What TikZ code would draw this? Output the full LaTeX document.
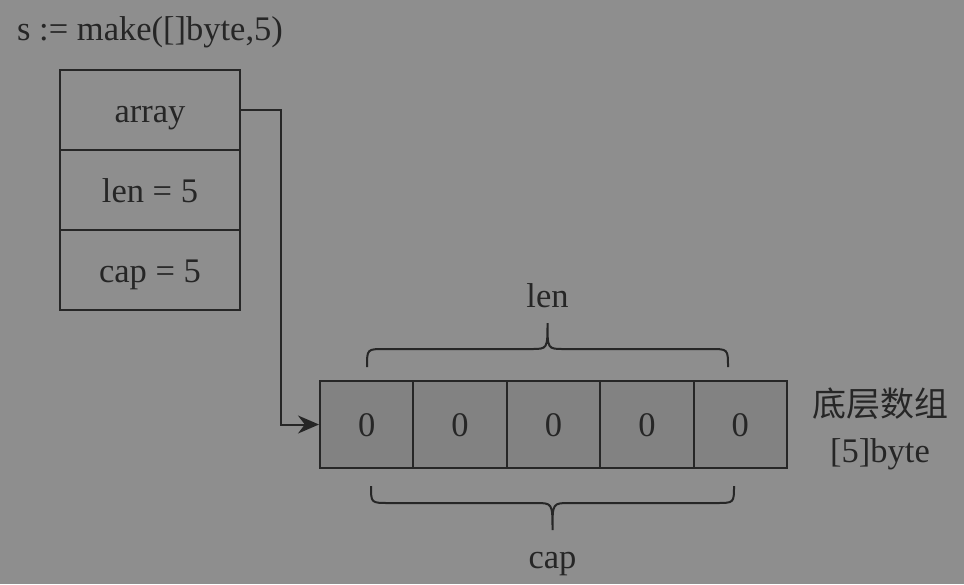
\documentclass[tikz,border=0pt]{standalone}
\usepackage{fontspec}
\setmainfont{Liberation Serif}
\newfontfamily\cjkfont{Noto Sans CJK SC}
\usetikzlibrary{arrows.meta}
\definecolor{bg}{RGB}{142,142,142}
\definecolor{cellbg}{RGB}{130,130,130}
\definecolor{ink}{RGB}{38,38,38}
\tikzset{
  field/.style={draw=ink, line width=2pt, minimum width=180pt, minimum height=80pt, inner sep=0pt, text height=24pt, text depth=0pt, text=ink},
  cell/.style={draw=ink, fill=cellbg, line width=2pt, minimum width=93.4pt, minimum height=87pt, inner sep=0pt, text height=24pt, text depth=0pt, text=ink},
  lbl/.style={text=ink, inner sep=0pt},
  brace/.style={draw=ink, line width=2pt},
}
\begin{document}
\begin{tikzpicture}[x=1pt, y=-1pt, font=\fontsize{34.5}{40}\selectfont]
\fill[bg] (0,0) rectangle (964,584);
\useasboundingbox (0,0) rectangle (964,584);

\node[lbl, anchor=base west] (title) at (17,40) {s := make([]byte,5)};

\node[field] (arr) at (150,110) {array};
\node[field] (len) at (150,190) {len = 5};
\node[field] (cap) at (150,270) {cap = 5};

\node[cell] (c0) at (366.7,424.5) {0};
\node[cell] (c1) at (460.1,424.5) {0};
\node[cell] (c2) at (553.5,424.5) {0};
\node[cell] (c3) at (646.9,424.5) {0};
\node[cell] (c4) at (740.3,424.5) {0};

\draw[draw=ink, line width=2pt, -{Stealth[length=21pt,width=18pt]}]
  (arr.east) -- ++(40,0) |- (c0.west);

% upper brace (len)
\coordinate (ul) at (367,367);
\coordinate (ur) at (728,367);
\coordinate (ut) at (547.5,323);
\draw[brace] (ul) .. controls (367,349) .. (385,349) -- (531,349)
  .. controls (547.5,349) .. (ut) .. controls (547.5,349) .. (564,349)
  -- (710,349) .. controls (728,349) .. (ur);
\node[lbl, anchor=base] (lenlbl) at (547.5,307) {len};

% lower brace (cap)
\coordinate (ll) at (371,486);
\coordinate (lr) at (734,486);
\coordinate (lt) at (552.5,530);
\draw[brace] (ll) .. controls (371,503) .. (389,503) -- (535,503)
  .. controls (552.5,503) .. (lt) .. controls (552.5,503) .. (570,503)
  -- (716,503) .. controls (734,503) .. (lr);
\node[lbl, anchor=base] (caplbl) at (552.5,568) {cap};

\node[lbl] (cn) at (880,404) {\cjkfont\fontsize{34}{40}\selectfont 底层数组};
\node[lbl, anchor=base] (bt) at (880,462) {[5]byte};
\end{tikzpicture}
\end{document}
